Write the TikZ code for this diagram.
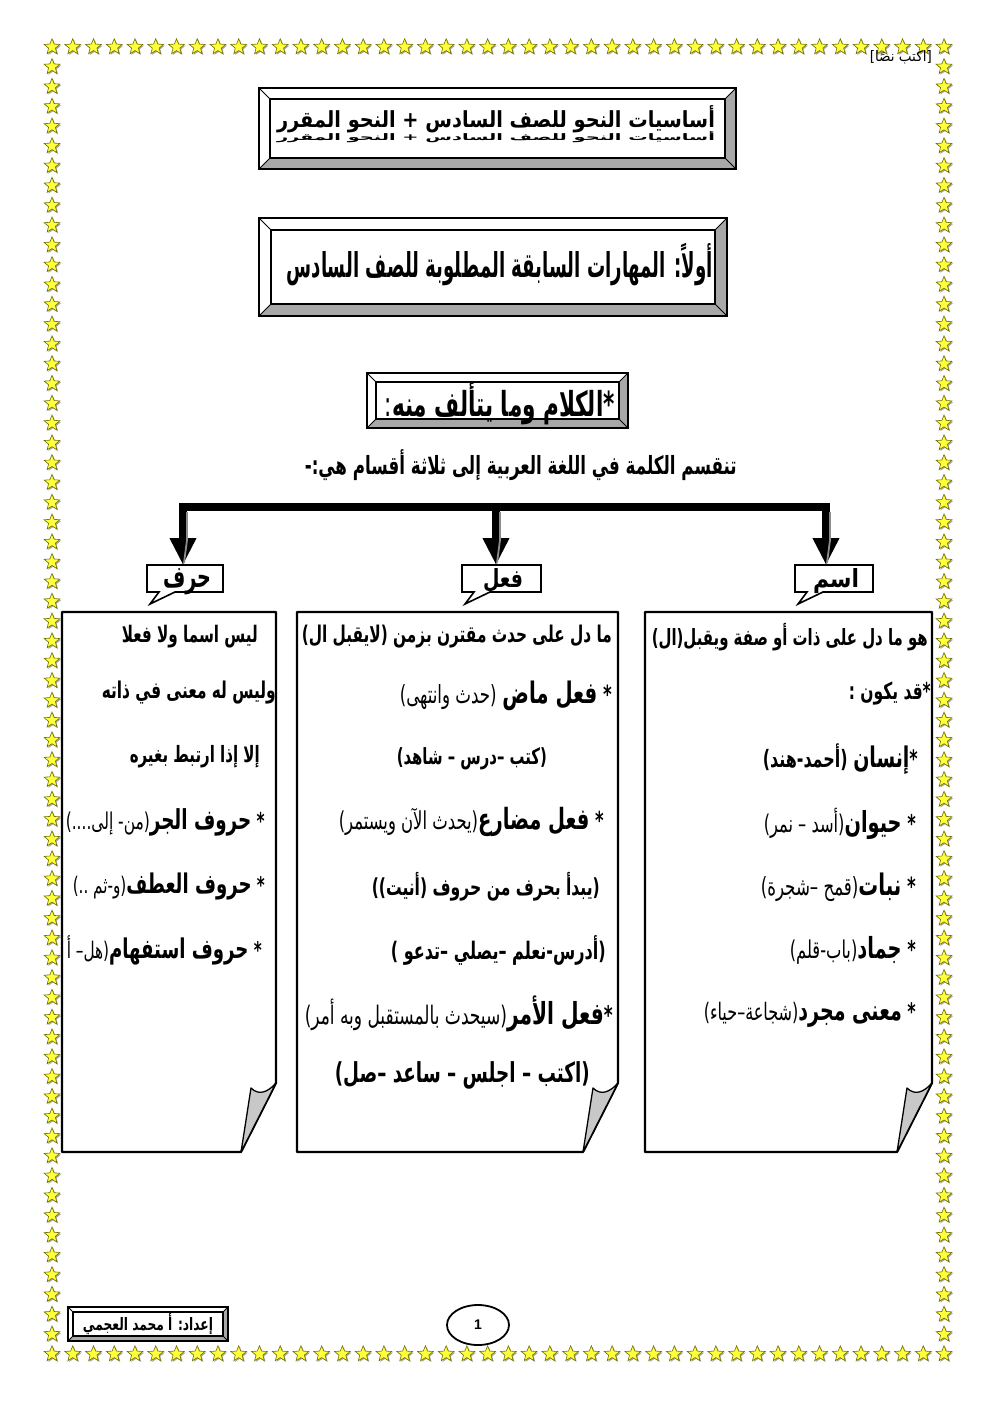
\documentclass[tikz,border=0pt]{standalone}
\usepackage{fontspec}
\usepackage{graphicx}
\usetikzlibrary{shapes.geometric,arrows.meta,shadows}
\TeXXeTstate=1
\newfontfamily\arf[Script=Arabic]{DejaVu Sans}
\newfontfamily\latf{Liberation Sans}
\definecolor{staryel}{HTML}{FFFF3C}
\definecolor{starline}{HTML}{707000}
\definecolor{bevgray}{HTML}{A8A8A8}
\definecolor{foldgray}{HTML}{C8C8C8}
% forced width and height, text
\newcommand\ARF[3]{\resizebox{#1pt}{#2pt}{\arf\fontsize{16}{18}\selectfont #3}}
% width, vertical stretch factor, text
\newcommand\AR[3]{\scalebox{1}[#2]{\resizebox{#1pt}{!}{\arf\fontsize{16}{18}\selectfont #3}}}
\newcommand\kw[1]{{\bfseries\fontsize{19}{22}\selectfont #1}}
\newcommand\bevbox[5]{%
  \fill[white] (#1,#2) rectangle (#3,#4);
  \fill[bevgray] (#3,#2) -- (#3,#4) -- (#1,#4) -- ({#1+#5},{#4-#5}) -- ({#3-#5},{#4-#5}) -- ({#3-#5},{#2+#5}) -- cycle;
  \draw[line width=0.8] (#1,#2) -- ({#1+#5},{#2+#5}) (#3,#2) -- ({#3-#5},{#2+#5}) (#1,#4) -- ({#1+#5},{#4-#5}) (#3,#4) -- ({#3-#5},{#4-#5});
  \draw[line width=2.6] (#1,#2) rectangle (#3,#4);
  \draw[line width=2] ({#1+#5},{#2+#5}) rectangle ({#3-#5},{#4-#5});
}
\newcommand\foldbox[4]{% L R T B
  \draw[line width=2.2, fill=white, line join=round] (#1,#3) -- (#2,#3) -- (#2,{#4-69}) -- ({#2-35},#4) -- (#1,#4) -- cycle;
  \draw[line width=1.3, fill=foldgray, line join=round] ({#2-35},#4) .. controls ({#2-31},{#4-25}) and ({#2-28},{#4-45}) .. ({#2-25},{#4-64}) .. controls ({#2-17},{#4-56}) and ({#2-8},{#4-60}) .. (#2,{#4-69}) -- cycle;
}
\newcommand\callbox[2]{% L R
  \draw[line width=1.6, fill=white, line join=miter] (#1,565) -- (#2,565) -- (#2,592) -- ({#1+28},592) -- ({#1+3},604) -- ({#1+12},592) -- (#1,592) -- cycle;
  \draw[line width=2.6] (#2,566) -- (#2,592) -- ({#1+28},592);
}
\begin{document}
\begin{tikzpicture}[x=1pt,y=-1pt,
  starsty/.style={star, star points=5, star point ratio=2.3, minimum size=16.5pt, inner sep=0pt,
    fill=staryel, draw=starline, line width=0.6pt,
    drop shadow={shadow xshift=1.2pt, shadow yshift=-1.2pt, fill=black!35, opacity=1}},
  txt/.style={inner sep=0pt, anchor=east},
  lab/.style={inner sep=0pt, anchor=base},
  arrowsty/.style={line width=8pt, -{Triangle[length=27pt,width=25pt]}},
  shadowline/.style={line width=1.8pt, black!45}]
\useasboundingbox (0,0) rectangle (992,1403);
\fill[white] (0,0) rectangle (992,1403);
% star border
\foreach \i in {0,...,43} {
  \node[starsty] (st\i) at ({52+\i*20.744},47) {};
  \node[starsty] (sb\i) at ({52+\i*20.744},1354) {};
}
\foreach \j in {1,...,65} {
  \node[starsty] (sl\j) at (52,{47+\j*19.803}) {};
  \node[starsty] (sr\j) at (944,{47+\j*19.803}) {};
}
\node[inner sep=0, anchor=east] (ph) at (932,57) {\ARF{62}{11}{\beginR [اكتب نصًا]\endR}};
% title box
\bevbox{259}{88}{736}{169}{11}
\node[inner sep=0, anchor=base] (title) at (496,127) {\ARF{438}{22}{\bfseries\beginR أساسيات النحو للصف  السادس + النحو المقرر\endR}};
\node[inner sep=0, anchor=north] (titlesh) at (496,131) {\ARF{438}{9}{\bfseries\beginR أساسيات النحو للصف  السادس + النحو المقرر\endR}};
% box 2
\bevbox{259}{218}{727}{316}{12}
\node[inner sep=0, anchor=base east] (sec) at (713,277) {\ARF{426}{34}{\bfseries\beginR أولاً: المهارات السابقة المطلوبة للصف السادس\endR}};
% box 3
\bevbox{367}{373}{628}{428}{9}
\node[txt] (kalam) at (615,404) {\AR{230}{1.6}{\bfseries\beginR *الكلام وما يتألف منه\mdseries:\endR}};
\node[txt] (intro) at (737,465) {\AR{432}{1.5}{\bfseries\beginR تنقسم الكلمة في اللغة العربية إلى ثلاثة أقسام هي:-\endR}};
% content boxes
\foldbox{645}{932}{612}{1152}
\foldbox{297}{618}{612}{1152}
\foldbox{62}{276}{612}{1152}
% labels
\callbox{147}{223}
\callbox{462}{541}
\callbox{795}{873}
\node[lab] (lh) at (187,587) {\ARF{48}{19}{\bfseries\beginR حرف\endR}};
\node[lab] (lf) at (503,587) {\ARF{40}{19}{\bfseries\beginR فعل\endR}};
\node[lab] (li) at (836,587) {\ARF{46}{19}{\bfseries\beginR اسم\endR}};
% arrows
\coordinate (barL) at (179,507);
\coordinate (barR) at (830,507);
\draw[line width=8pt] (barL) -- (barR);
\coordinate (a1) at (183,503);
\coordinate (a2) at (496,503);
\coordinate (a3) at (826,503);
\coordinate (e1) at (183,565);
\coordinate (e2) at (496,565);
\coordinate (e3) at (826,565);
\draw[arrowsty] (a1) -- (e1);
\draw[arrowsty] (a2) -- (e2);
\draw[arrowsty] (a3) -- (e3);
\draw[shadowline] (187,512) -- (187,540) -- (184,563);
\draw[shadowline] (500,512) -- (500,540) -- (497,563);
\draw[shadowline] (830,512) -- (830,540) -- (827,563);
% right box text
\node[txt] (r1) at (928,637) {\AR{276}{1.5}{\bfseries\beginR هو ما دل على ذات أو صفة ويقبل(ال)\endR}};
\node[txt] (r2) at (931,693) {\AR{82}{1.5}{\bfseries\beginR *قد يكون :\endR}};
\node[txt] (r3) at (918,759) {\AR{155}{1.5}{\bfseries\beginR *\kw{إنسان} (أحمد-هند)\endR}};
\node[txt] (r4) at (916,824) {\AR{152}{1.5}{\bfseries\beginR * \kw{حيوان}\mdseries(أسد – نمر)\endR}};
\node[txt] (r5) at (916,887) {\AR{155}{1.5}{\bfseries\beginR * \kw{نبات}\mdseries(قمح –شجرة)\endR}};
\node[txt] (r6) at (916,950) {\AR{126}{1.5}{\bfseries\beginR * \kw{جماد}\mdseries(باب-قلم)\endR}};
\node[txt] (r7) at (916,1015) {\AR{212}{1.5}{\bfseries\beginR * \kw{معنى مجرد}\mdseries(شجاعة–حياء)\endR}};
% middle box text
\node[txt] (m1) at (612,637) {\AR{310}{1.5}{\bfseries\beginR ما دل على حدث مقترن بزمن (لايقبل ال)\endR}};
\node[txt] (m2) at (612,696) {\AR{212}{1.5}{\bfseries\beginR * \kw{فعل ماض} \mdseries(حدث وانتهى)\endR}};
\node[txt] (m3) at (547,759) {\AR{150}{1.5}{\bfseries\beginR (كتب –درس – شاهد)\endR}};
\node[txt] (m4) at (604,822) {\AR{265}{1.5}{\bfseries\beginR * \kw{فعل مضارع}\mdseries(يحدث الآن ويستمر)\endR}};
\node[txt] (m5) at (600,887) {\AR{228}{1.5}{\bfseries\beginR (يبدأ بحرف من حروف (أنيت))\endR}};
\node[txt] (m6) at (606,950) {\AR{215}{1.5}{\bfseries\beginR (أدرس-نعلم –يصلي –تدعو )\endR}};
\node[txt] (m7) at (613,1014) {\AR{308}{1.5}{\bfseries\beginR *\kw{فعل الأمر}\mdseries(سيحدث بالمستقبل وبه أمر)\endR}};
\node[txt] (m8) at (590,1075) {\AR{255}{1.5}{\bfseries\beginR (اكتب – اجلس – ساعد –صل)\endR}};
% left box text
\node[txt] (l1) at (258,637) {\AR{136}{1.5}{\bfseries\beginR ليس اسما ولا فعلا\endR}};
\node[txt] (l2) at (276,693) {\AR{174}{1.5}{\bfseries\beginR وليس له معنى في ذاته\endR}};
\node[txt] (l3) at (260,757) {\AR{130}{1.5}{\bfseries\beginR إلا إذا ارتبط بغيره\endR}};
\node[txt] (l4) at (265,822) {\AR{199}{1.5}{\bfseries\beginR * \kw{حروف الجر}\mdseries(من- إلى....)\endR}};
\node[txt] (l5) at (265,886) {\AR{192}{1.5}{\bfseries\beginR * \kw{حروف العطف}\mdseries(و-ثم ..)\endR}};
\node[txt] (l6) at (262,950) {\AR{195}{1.5}{\bfseries\beginR * \kw{حروف استفهام}\mdseries(هل– أ\endR}};
% footer
\bevbox{68}{1307}{228}{1341}{5}
\node[inner sep=0] (author) at (148,1324) {\AR{130}{1.4}{\bfseries\beginR إعداد: أ محمد العجمي\endR}};
\node[draw, ellipse, line width=1.8pt, minimum width=62pt, minimum height=40pt, inner sep=0] (pg) at (478,1325) {\latf\bfseries\fontsize{14}{16}\selectfont 1};
\end{tikzpicture}
\end{document}
